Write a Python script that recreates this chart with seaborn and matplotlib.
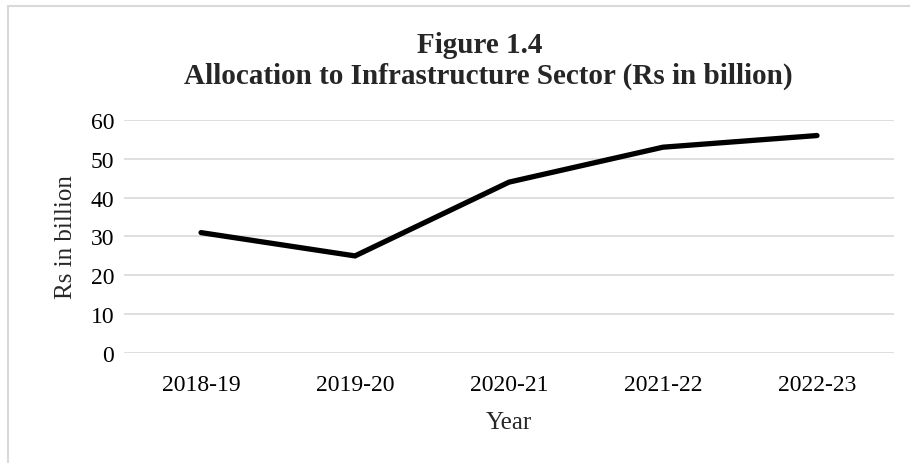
import matplotlib
matplotlib.use("Agg")
import matplotlib.pyplot as plt
import matplotlib.patches as mpatches
import pandas as pd
import seaborn as sns

years = ["2018-19", "2019-20", "2020-21", "2021-22", "2022-23"]
allocation = [31, 25, 44, 53, 56]
y_ticks = [0, 10, 20, 30, 40, 50, 60]

sns.set_theme(style="white")
plt.rcParams["font.family"] = ["Liberation Serif", "DejaVu Serif"]

df = pd.DataFrame({"Year": years, "Allocation": allocation})

fig = plt.figure(figsize=(9.1, 4.64), dpi=100)
ax = fig.add_axes([0.1363, 0.2371, 0.8461, 0.5021])

sns.lineplot(data=df, x="Year", y="Allocation", ax=ax, color="black",
             linewidth=3.8, sort=False)
for line in ax.lines:
    line.set_solid_capstyle("round")
    line.set_solid_joinstyle("miter")

ax.set_xlim(-0.5, len(years) - 0.5)
ax.set_ylim(0, 60)
ax.set_yticks(y_ticks)
ax.yaxis.grid(True, color="#d9d9d9", linewidth=1.2)
ax.set_axisbelow(True)
for s in ax.spines.values():
    s.set_visible(False)
ax.tick_params(axis="both", length=0, labelsize=17, labelcolor="black")
ax.tick_params(axis="x", pad=15)
ax.tick_params(axis="y", pad=7)
ax.set_xlabel("Year", fontsize=18, labelpad=12)
ax.set_ylabel("Rs in billion", fontsize=18, labelpad=10)

fig.text(0.527, 0.903, "Figure 1.4", ha="center", va="center",
         fontsize=21, fontweight="bold")
fig.text(0.537, 0.836, "Allocation to Infrastructure Sector (Rs in billion)",
         ha="center", va="center", fontsize=21, fontweight="bold")

# chart-area frame
fig.patches.append(mpatches.Rectangle((7.5 / 910, -0.1), 1.2, 1.0 - 6.5 / 464 + 0.1,
                                      transform=fig.transFigure, fill=False,
                                      edgecolor="#d9d9d9", linewidth=1.5))

fig.savefig("out.png", dpi=100)
